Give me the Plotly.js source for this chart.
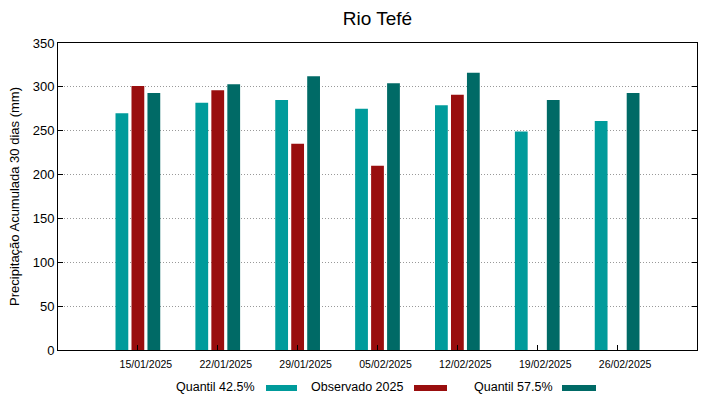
<!DOCTYPE html>
<html>
<head>
<meta charset="utf-8">
<script src="https://cdn.plot.ly/plotly-3.0.1.min.js"></script>
<style>html,body{margin:0;padding:0;background:#fff}#chart{width:719px;height:399px}</style>
</head>
<body>
<div id="chart"></div>
<script>
const categories = ["15/01/2025","22/01/2025","29/01/2025","05/02/2025","12/02/2025","19/02/2025","26/02/2025"];
const q425 = [270, 282, 285, 275, 279, 249, 261];
const observado = [301, 296, 235, 210, 291, null, null];
const q575 = [293, 303, 312, 304, 316, 285, 293];
const seriesNames = ["Quantil 42.5%", "Observado 2025", "Quantil 57.5%"];
const colors = ["#009b9b", "#990e0e", "#006a66"];
const yTicks = [0, 50, 100, 150, 200, 250, 300, 350];

const xIdx = categories.map((_, i) => i);
const allSeries = [q425, observado, q575];
const traces = allSeries.map((vals, k) => ({
  type: "bar",
  x: xIdx,
  y: vals,
  name: seriesNames[k],
  marker: {color: colors[k], line: {width: 0}},
  showlegend: false
}));

const font = "Liberation Sans, Arial, sans-serif";
const layout = {
  width: 719, height: 399,
  margin: {l: 58, r: 22, t: 43, b: 49},
  paper_bgcolor: "#fff", plot_bgcolor: "#fff",
  barmode: "group", bargap: 0.4, bargroupgap: 0.2,
  title: {text: "Rio Tefé", font: {family: font, size: 19, color: "#000"}, x: 0.525, xanchor: "center", y: 0.955, yanchor: "middle"},
  font: {family: font, color: "#000"},
  xaxis: {
    range: [-1, 7], tickvals: xIdx, ticktext: categories,
    ticks: "inside", ticklen: 5, tickcolor: "#000",
    showline: true, linecolor: "#000", linewidth: 1, mirror: true,
    showgrid: false, zeroline: false,
    tickfont: {size: 10.5, family: font}, ticklabelshift: 8, ticklabelstandoff: 4
  },
  yaxis: {
    range: [0, 350], tickvals: yTicks,
    ticks: "inside", ticklen: 5, tickcolor: "#000",
    showline: true, linecolor: "#000", linewidth: 1, mirror: "ticks",
    showgrid: true, gridcolor: "#999", griddash: "1px,2px", gridwidth: 1,
    zeroline: false,
    tickfont: {size: 13, family: font},
    title: {text: "Precipitação Acumulada 30 dias (mm)", font: {size: 13, family: font}, standoff: 10}
  },
  annotations: [],
  shapes: []
};

// gnuplot-style legend: text then swatch to its right
const legendItems = [
  {textRight: 257, swStart: 266, swEnd: 297},
  {textRight: 405, swStart: 414, swEnd: 447},
  {textRight: 555, swStart: 562, swEnd: 596}
];
legendItems.forEach((it, k) => {
  layout.annotations.push({
    xref: "paper", yref: "paper",
    x: (it.textRight - 58) / 639, y: -(387 - 350) / 307,
    xanchor: "right", yanchor: "middle", showarrow: false,
    text: seriesNames[k], font: {size: 12.5, family: font, color: "#000"}
  });
  layout.shapes.push({
    type: "rect", xref: "paper", yref: "paper",
    x0: (it.swStart - 58) / 639, x1: (it.swEnd - 58) / 639,
    y0: -(391 - 350) / 307, y1: -(385 - 350) / 307,
    fillcolor: colors[k], line: {width: 0}
  });
});

Plotly.newPlot("chart", traces, layout, {displayModeBar: false, staticPlot: true});
</script>
</body>
</html>
